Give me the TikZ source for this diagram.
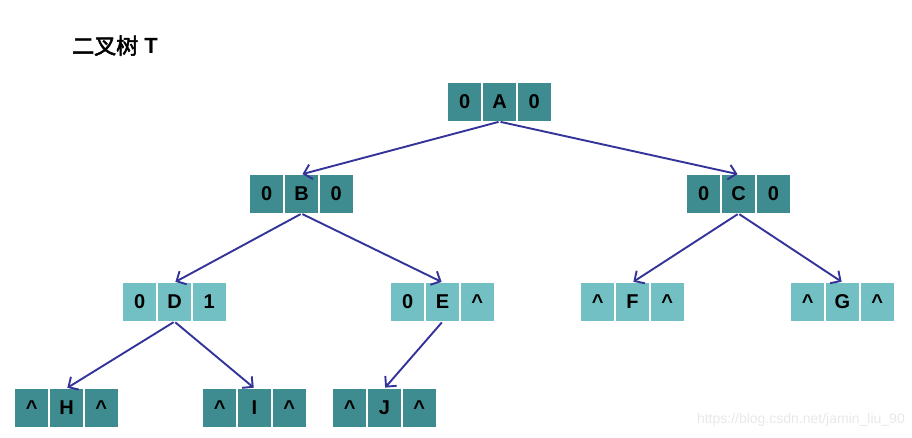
\documentclass[tikz,border=0pt]{standalone}
\usepackage{fontspec}
\setmainfont{Liberation Sans}
\newfontfamily\cjk[AutoFakeBold=2.5]{Noto Sans CJK SC}
\usetikzlibrary{arrows.meta}
\definecolor{darkteal}{HTML}{3E8C90}
\definecolor{lightteal}{HTML}{72C0C4}
\definecolor{arrowblue}{HTML}{333399}
\tikzset{
  cell/.style={draw=white, line width=0.8pt, minimum width=34pt, minimum height=38.5pt, inner sep=0pt, font=\fontsize{20}{20}\selectfont\bfseries, text=black},
  dk/.style={cell, fill=darkteal},
  lt/.style={cell, fill=lightteal},
  link/.style={draw=arrowblue, line width=1.9pt, -{Straight Barb[length=7.5pt,width=15pt,line width=1.9pt]}, shorten <=1pt, shorten >=1pt}
}
\newcommand\tnodeb[7]{%
  \node[#4] (#1) at (#2,#3) {#6};
  \node[#4, anchor=east] (#1-l) at (#1.west) {#5};
  \node[#4, anchor=west] (#1-r) at (#1.east) {#7};
}
\begin{document}
\begin{tikzpicture}[x=1pt,y=-1pt]
\useasboundingbox (0,0) rectangle (912,438);
\node[anchor=base west, inner sep=0pt, font=\fontsize{22}{22}\selectfont\bfseries] (title) at (72,54) {{\cjk\bfseries 二叉树} T};
\tnodeb{A}{499.5}{102}{dk}{0}{A}{0}
\tnodeb{B}{301.5}{194}{dk}{0}{B}{0}
\tnodeb{C}{738.5}{194}{dk}{0}{C}{0}
\tnodeb{D}{174.5}{302}{lt}{0}{D}{1}
\tnodeb{E}{442.5}{302}{lt}{0}{E}{\textasciicircum}
\tnodeb{F}{632.5}{302}{lt}{\textasciicircum}{F}{\textasciicircum}
\tnodeb{G}{842.5}{302}{lt}{\textasciicircum}{G}{\textasciicircum}
\tnodeb{H}{66.5}{408}{dk}{\textasciicircum}{H}{\textasciicircum}
\tnodeb{I}{254.5}{408}{dk}{\textasciicircum}{I}{\textasciicircum}
\tnodeb{J}{384.5}{408}{dk}{\textasciicircum}{J}{\textasciicircum}
\draw[link] (A.south) -- (B.north);
\draw[link] (A.south) -- (C.north);
\draw[link] (B.south) -- (D.north);
\draw[link] (B.south) -- (E.north);
\draw[link] (C.south) -- (F.north);
\draw[link] (C.south) -- (G.north);
\draw[link] (D.south) -- (H.north);
\draw[link] (D.south) -- (I.north);
\draw[link] (E.south) -- (J.north);
\node[anchor=base east, inner sep=0pt, text=black!9, font=\fontsize{14}{14}\selectfont] (wm) at (905,423) {https://blog.csdn.net/jamin\_liu\_90};
\end{tikzpicture}
\end{document}
